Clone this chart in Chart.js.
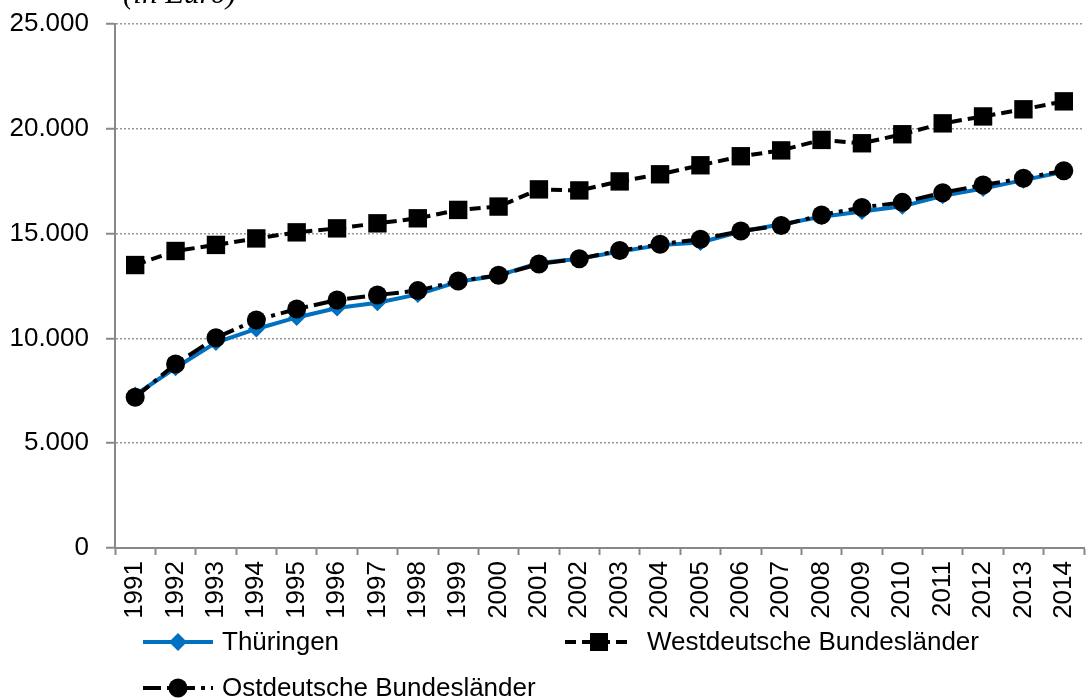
<!DOCTYPE html>
<html>
<head>
<meta charset="utf-8">
<script src="https://cdn.jsdelivr.net/npm/chart.js@4.4.1/dist/chart.umd.min.js"></script>
<style>
  html, body { margin: 0; padding: 0; background: #fff; overflow: hidden; }
  #wrap { position: relative; width: 1097px; height: 700px; }
</style>
</head>
<body>
<div id="wrap"><canvas id="chart"></canvas></div>
<script>
// ---------- data ----------
const years = ['1991','1992','1993','1994','1995','1996','1997','1998','1999','2000','2001','2002',
               '2003','2004','2005','2006','2007','2008','2009','2010','2011','2012','2013','2014'];

const thueringen = [7300, 8600, 9800, 10450, 11000, 11450, 11700, 12100, 12700, 13000, 13600, 13800,
                    14150, 14450, 14580, 15100, 15450, 15800, 16050, 16300, 16800, 17150, 17550, 17950];

const westdeutsch = [13500, 14170, 14460, 14770, 15060, 15250, 15490, 15730, 16130, 16290, 17110, 17060,
                     17490, 17830, 18260, 18690, 18970, 19470, 19310, 19740, 20260, 20590, 20930, 21310];

const ostdeutsch = [7190, 8780, 10030, 10880, 11400, 11830, 12070, 12280, 12740, 13010, 13550, 13800,
                    14190, 14490, 14730, 15120, 15390, 15890, 16250, 16490, 16950, 17320, 17640, 18000];

const yTicks = [0, 5000, 10000, 15000, 20000, 25000];

const FONT = '"Liberation Sans", Arial, sans-serif';
const BLUE = '#0070C0';
const WEST_DASH = [11, 6];
const OST_DASH = [18, 6, 4, 6];

function fmt(v) {
  return String(v).replace(/\B(?=(\d{3})+(?!\d))/g, '.');
}

// ---------- legend + cut-off subtitle ----------
const extras = {
  id: 'extras',
  afterDraw(chart) {
    const ctx = chart.ctx;
    ctx.save();

    // subtitle, only its lower part shows at the top edge
    ctx.fillStyle = '#000';
    ctx.font = 'italic 31px "Liberation Serif", "Times New Roman", serif';
    ctx.textBaseline = 'alphabetic';
    ctx.textAlign = 'left';
    ctx.fillText('(in Euro)', 123, 3);

    ctx.font = '26px ' + FONT;
    ctx.textBaseline = 'middle';

    function sample(x1, x2, y, color, dash) {
      ctx.save();
      ctx.strokeStyle = color;
      ctx.lineWidth = 4;
      ctx.setLineDash(dash);
      ctx.beginPath();
      ctx.moveTo(x1, y);
      ctx.lineTo(x2, y);
      ctx.stroke();
      ctx.restore();
    }

    // Thüringen
    let y = 642;
    sample(143, 213, y, BLUE, []);
    ctx.fillStyle = BLUE;
    ctx.beginPath();
    ctx.moveTo(178, y - 9); ctx.lineTo(187, y); ctx.lineTo(178, y + 9); ctx.lineTo(169, y);
    ctx.closePath(); ctx.fill();
    ctx.fillStyle = '#000';
    ctx.fillText('Thüringen', 222, y + 1);

    // Westdeutsche Bundesländer
    sample(565, 631, y, '#000', WEST_DASH);
    ctx.fillRect(590, y - 9, 18, 18);
    ctx.fillText('Westdeutsche Bundesländer', 647, y + 1);

    // Ostdeutsche Bundesländer
    y = 688;
    sample(143, 213, y, '#000', OST_DASH);
    ctx.beginPath();
    ctx.arc(178, y, 9.5, 0, Math.PI * 2);
    ctx.fill();
    ctx.fillText('Ostdeutsche Bundesländer', 222, y + 1);

    ctx.restore();
  }
};

new Chart(document.getElementById('chart'), {
  type: 'line',
  data: {
    labels: years,
    datasets: [
      {
        label: 'Thüringen',
        data: thueringen,
        borderColor: BLUE,
        backgroundColor: BLUE,
        borderWidth: 4,
        pointStyle: 'rectRot',
        pointRadius: 8.5,
        pointBorderWidth: 0,
        pointBackgroundColor: BLUE,
        tension: 0,
        order: 2
      },
      {
        label: 'Westdeutsche Bundesländer',
        data: westdeutsch,
        borderColor: '#000',
        backgroundColor: '#000',
        borderWidth: 4,
        borderDash: WEST_DASH,
        pointStyle: 'rect',
        pointRadius: 13,
        pointBorderWidth: 0,
        pointBackgroundColor: '#000',
        tension: 0,
        order: 1
      },
      {
        label: 'Ostdeutsche Bundesländer',
        data: ostdeutsch,
        borderColor: '#000',
        backgroundColor: '#000',
        borderWidth: 4,
        borderDash: OST_DASH,
        pointStyle: 'circle',
        pointRadius: 9.5,
        pointBorderWidth: 0,
        pointBackgroundColor: '#000',
        tension: 0,
        order: 0
      }
    ]
  },
  options: {
    responsive: true,
    maintainAspectRatio: false,
    animation: false,
    layout: { padding: { top: 24, right: 0, bottom: 0, left: 0 } },
    plugins: {
      legend: { display: false },
      tooltip: { enabled: false },
      title: { display: false }
    },
    scales: {
      x: {
        offset: true,
        grid: {
          display: true,
          offset: true,
          drawOnChartArea: false,
          drawTicks: true,
          tickLength: 7,
          tickColor: '#888',
          tickWidth: 2
        },
        border: { display: true, color: '#888', width: 2 },
        ticks: {
          autoSkip: false,
          minRotation: 90,
          maxRotation: 90,
          padding: 6,
          color: '#000',
          font: { family: FONT, size: 26 }
        },
        afterFit(scale) {
          scale.height = 152;
          scale.paddingLeft = 0;
          scale.paddingRight = 0;
        }
      },
      y: {
        min: 0,
        max: 25000,
        afterBuildTicks(scale) { scale.ticks = yTicks.map(v => ({ value: v })); },
        grid: {
          color: '#999',
          lineWidth: 1.5,
          drawTicks: true,
          tickLength: 9,
          tickColor: '#888',
          tickWidth: 2,
          tickBorderDash: []
        },
        border: { display: true, color: '#888', width: 2, dash: [2, 2] },
        ticks: {
          padding: 17,
          color: '#000',
          font: { family: FONT, size: 26 },
          callback: v => fmt(v)
        },
        afterFit(scale) {
          scale.width = 115;
          scale.paddingTop = 0;
          scale.paddingBottom = 0;
        }
      }
    }
  },
  plugins: [extras]
});
</script>
</body>
</html>
